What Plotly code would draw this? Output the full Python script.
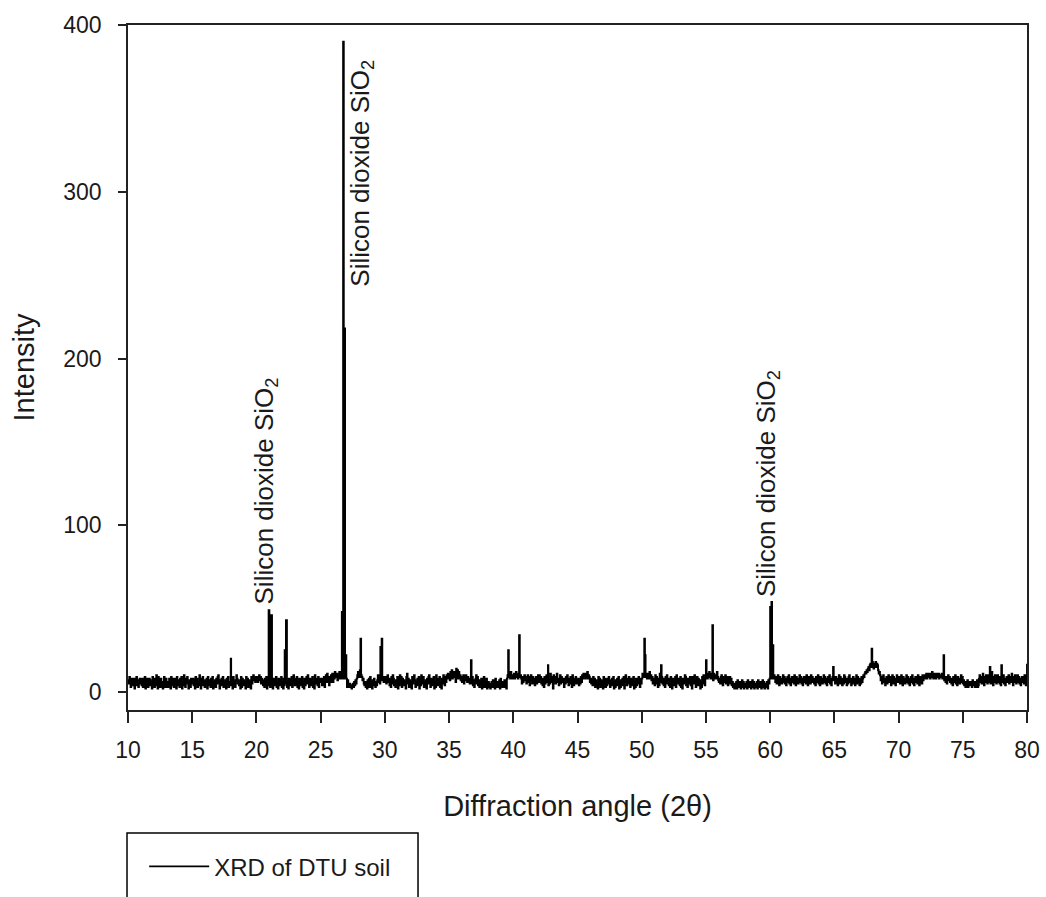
import numpy as np
import plotly.graph_objects as go

# Background intensity, one character per 0.05 deg step (base-36 digit = counts),
# grouped in 5-degree blocks starting at 10 deg.
block_starts = [10, 15, 20, 25, 30, 35, 40, 45, 50, 55, 60, 65, 70, 75]
background_blocks = [
    "75963848752869473586648375926483587462958374a629573846259738463587294683758296473859264a738596247385",
    "68472958364a7285946375829647385926473859a627485936472859364758294637a8574629385746295837462958a7869",
    "7968a7958647385926478359628475936284759362847593628475936a847593628475936284795a6384759362a85749368",
    "68475938a6b79486a8b6a8c9ab7a9c8b" "8a9b8a9b837" "4353424536475" "8acb9dca978" "5463527384936274853647a685" "b8a7968",
    "7958a6847395a8463759284a6938574629b5837462958a7364859274a85936472859a6384759263a8475936285a7496a8b9",
    "a7cbd8c9bc6ebd8c" "8a7968a597a869785" "685947368a59473658274936582" "463524637452836453728463547362" "8a79b8c9a8",
    "9b8ac9a8b79a85968a7958a6947a8596847958a6a7958473958a69475b8692a7958b6847a5968738596a7485963a7486957",
    "6847596a8b9a8b9c8a96857495837462958374629583748596374859263748592637485926a748596384759263847596385",
    "8b9aca9b8a" "b8c9a79586" "4a597384b6295847396a58473962857493a685749362857a94638579462958a7369485726395a848",
    "9a8b9ca8b9a7b89a8c97" "6859a74968a579486958" "4635243627453624736254362745362473625436274536247362543627" "58",
    "a9b8c9a8" "6958a7496857a69584796a58479685a7496857a6958479685a749685a7968574968a57496857a69584796a5847968",
    "7596847a5968475a9684759a6847596847a596847596" "8a9bcbdcefdghfgiheghifhgdbca" "7958a6847958a69847a595847a96",
    "6958a7496857a69584796a58479685a749685a79" "8a9b8ab9a8b9ca8b9a8b9ab89a" "9b8a9786958a7968574968a57496857a69",
    "5746354736454637456354734" "8a6958b7496a857a6958c7496a857a69584796a5847968a5968b7496a857a6958479685a749",
]

# Diffraction peaks: angle (2-theta, deg) and intensity
peak_angles = [18.0, 20.95, 21.15, 22.2, 22.3, 26.65, 26.75, 26.85, 26.95,
               28.1, 29.65, 29.75, 36.7, 39.6, 40.45, 42.7, 50.2, 50.25, 51.5,
               55.0, 55.5, 60.0, 60.1, 60.2, 64.9, 67.9, 73.5, 77.1, 78.0, 80.0]
peak_counts = [20, 49, 46, 25, 43, 48, 390, 218, 22,
               32, 27, 32, 19, 25, 34, 16, 32, 22, 16,
               19, 40, 51, 54, 28, 15, 26, 22, 15, 16, 17]

# Annotated silicon dioxide reflections: label position (angle, intensity)
label_angles = [20.67, 28.2, 59.75]
label_counts = [51, 242, 56]
label_text = "Silicon dioxide SiO<sub>2</sub>"

x_ticks = list(range(10, 81, 5))
y_ticks = [0, 100, 200, 300, 400]

# Assemble the pattern
angles, counts = [], []
for start, block in zip(block_starts, background_blocks):
    step = 5.0 / len(block)
    for i, ch in enumerate(block):
        angles.append(start + i * step)
        counts.append(int(ch, 36))
angles.append(80.0)
counts.append(8)
angles = np.array(angles)
counts = np.array(counts, dtype=float)
for a, c in zip(peak_angles, peak_counts):
    idx = int(np.argmin(np.abs(angles - a)))
    angles[idx] = a
    counts[idx] = c

TEXT = "#1a1a1a"
FONT = "Liberation Sans, Arial, sans-serif"

fig = go.Figure()
fig.add_trace(go.Scatter(
    x=angles, y=counts, mode="lines",
    line=dict(color="black", width=1.9, shape="hv"),
    name="XRD of DTU soil",
))

for a, c in zip(label_angles, label_counts):
    fig.add_annotation(
        x=a, y=c, text=label_text, textangle=-90, showarrow=False,
        xanchor="center", yanchor="bottom",
        font=dict(family=FONT, size=26, color=TEXT),
    )

# Legend frame running off the bottom edge
fig.add_shape(type="rect", xref="paper", yref="paper",
              x0=-0.0011, x1=0.3226, y0=-0.1796, y1=-0.32,
              line=dict(color="black", width=1.5), fillcolor="rgba(0,0,0,0)")

fig.update_layout(
    width=1046, height=897,
    margin=dict(l=128, r=19, t=25, b=187, autoexpand=False),
    paper_bgcolor="white", plot_bgcolor="white",
    font=dict(family=FONT, color=TEXT),
    showlegend=True,
    legend=dict(
        x=0.018, y=-0.196, xanchor="left", yanchor="top",
        bgcolor="rgba(0,0,0,0)", borderwidth=0,
        font=dict(family=FONT, size=24, color=TEXT),
        itemwidth=60,
    ),
    xaxis=dict(
        range=[10, 80], tickvals=x_ticks, ticktext=[str(v) for v in x_ticks],
        showgrid=False, zeroline=False,
        showline=True, linecolor="#222", linewidth=1.5, mirror=True,
        ticks="outside", ticklen=11, tickwidth=1.5, tickcolor="#222",
        tickfont=dict(family=FONT, size=23, color=TEXT),
        ticklabelstandoff=8,
        title=dict(text="Diffraction angle (2θ)", font=dict(family=FONT, size=29, color=TEXT),
                   standoff=33),
    ),
    yaxis=dict(
        range=[-10.8, 400], tickvals=y_ticks, ticktext=[str(v) for v in y_ticks],
        showgrid=False, zeroline=False,
        showline=True, linecolor="#222", linewidth=1.5, mirror=True,
        ticks="outside", ticklen=8, tickwidth=1.5, tickcolor="#222",
        tickfont=dict(family=FONT, size=23, color=TEXT),
        ticklabelstandoff=12,
        title=dict(text="Intensity", font=dict(family=FONT, size=29, color=TEXT),
                   standoff=20),
    ),
)

fig.write_html("out.html")
